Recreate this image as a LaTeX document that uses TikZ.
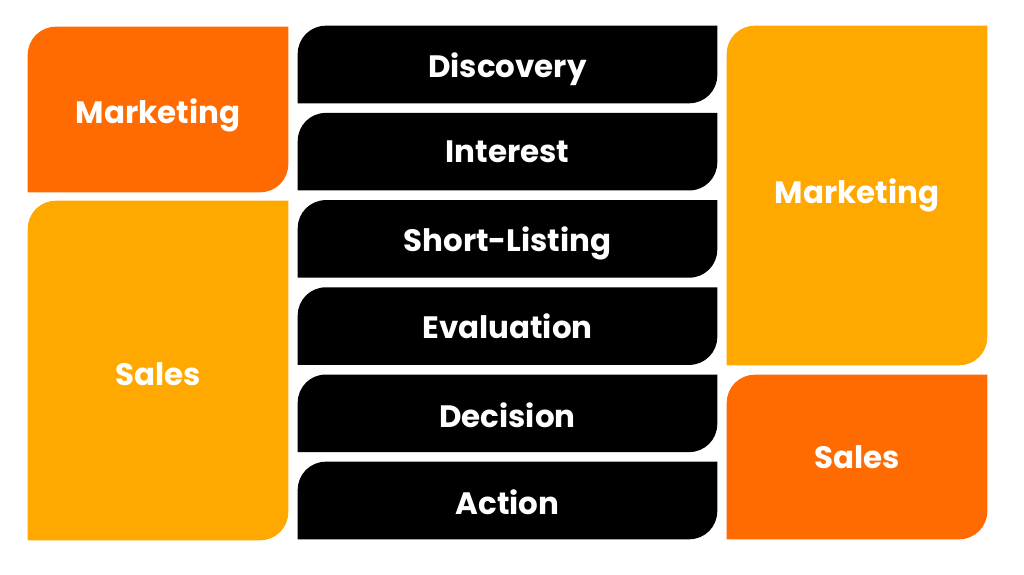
\documentclass[tikz,border=0pt]{standalone}
\usepackage{fontspec}
\setmainfont{Poppins}
\usepackage{tikz}
\usetikzlibrary{backgrounds}
\definecolor{Tangerine}{RGB}{255,107,0}
\definecolor{Amber}{RGB}{255,168,0}
\newcommand{\crad}{0.7cm}
\newcommand{\tagfont}{\fontsize{22}{26}\selectfont\bfseries}
% lower a label without changing its box
\newcommand{\dropby}[2]{\raisebox{-#1}[\height][\depth]{#2}}
% leaf shape behind a node: top left and bottom right corners rounded
\newcommand{\leafshape}[2]{\fill[#2] ([yshift=-\crad]#1.north west) arc[start angle=180,end angle=90,radius=\crad] -- (#1.north east) -- ([yshift=\crad]#1.south east) arc[start angle=0,end angle=-90,radius=\crad] -- (#1.south west) -- cycle;}
\tikzset{
	tile/.style={minimum width=6.5cm,inner sep=0pt,text=white,font=\tagfont},
	stage/.style={minimum width=10.475cm,minimum height=1.925cm,inner sep=0pt,text=white,font=\tagfont},
}

\begin{document}
\begin{tikzpicture}
	\useasboundingbox (0,0) rectangle (25.6,-14.375);
	% side tiles
	\node[tile,minimum height=4.125cm] (mkL) at (3.95,-2.7375) {\dropby{0.15cm}{Marketing}};
	\node[tile,minimum height=8.475cm] (slL) at (3.95,-9.2625) {\dropby{0.1cm}{Sales}};
	\node[tile,minimum height=8.475cm] (mkR) at (21.425,-4.8875) {Marketing};
	\node[tile,minimum height=4.1cm] (slR) at (21.425,-11.425) {Sales};
	% stages
	\foreach \s/\t/\d [count=\i from 0] in {disc/Discovery/0.12cm,intr/Interest/0cm,shrt/Short-Listing/0.12cm,eval/Evaluation/0cm,deci/Decision/0.05cm,actn/Action/0.05cm}
	\node[stage] (\s) at (12.6875,{-1.6125-2.18*\i}) {\dropby{\d}{\t}};
	\begin{pgfonlayer}{background}
		\foreach \n/\c in {mkL/Tangerine,slL/Amber,mkR/Amber,slR/Tangerine,disc/black,intr/black,shrt/black,eval/black,deci/black,actn/black}
		{\leafshape{\n}{\c}}
	\end{pgfonlayer}
\end{tikzpicture}
\end{document}
